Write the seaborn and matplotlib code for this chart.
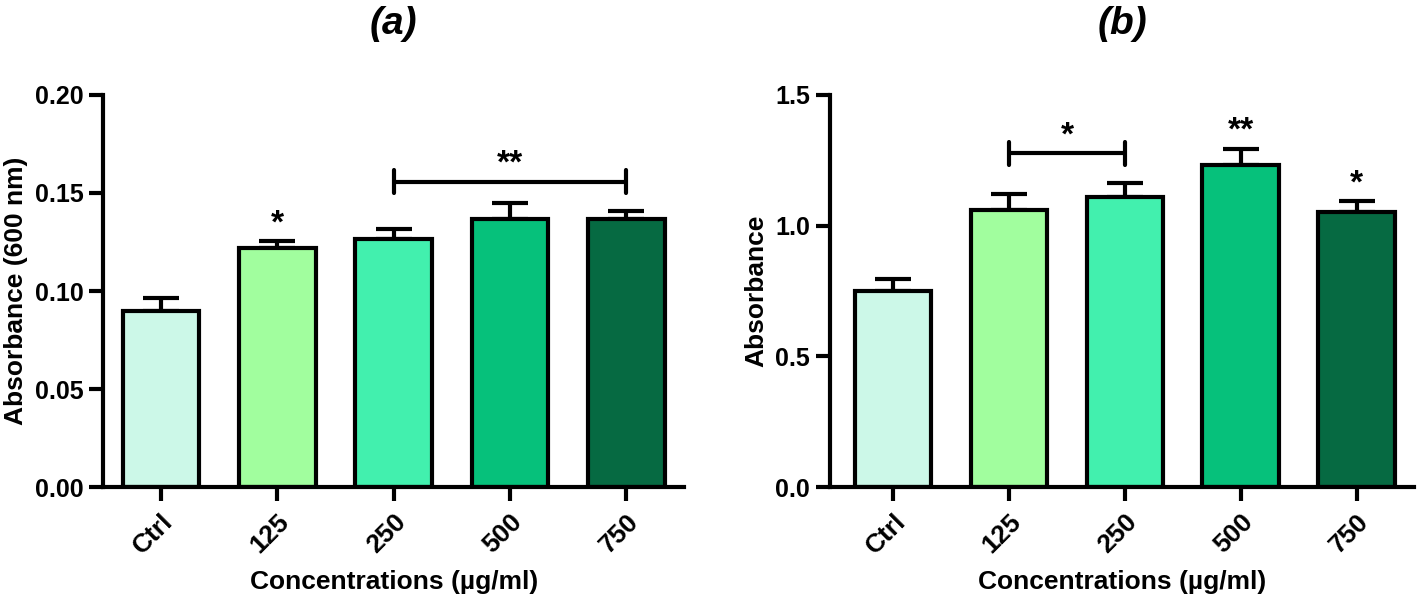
import numpy as np
import matplotlib
matplotlib.use("Agg")
import matplotlib.pyplot as plt
import seaborn as sns

# data
categories = ["Ctrl", "125", "250", "500", "750"]
colors = ["#CCF8E8", "#A1FE9E", "#42F0AE", "#06C17B", "#066A42"]

abs_a = [0.0897, 0.1217, 0.1263, 0.1368, 0.1368]
err_a = [0.0067, 0.0039, 0.0051, 0.0081, 0.0039]

abs_b = [0.750, 1.058, 1.109, 1.231, 1.051]
err_b = [0.045, 0.064, 0.055, 0.064, 0.045]

sns.set_theme(style="ticks")
plt.rcParams["font.family"] = ["Liberation Sans", "DejaVu Sans"]
plt.rcParams["font.weight"] = "bold"
plt.rcParams["text.color"] = "black"
plt.rcParams["axes.labelcolor"] = "black"
plt.rcParams["xtick.color"] = "black"
plt.rcParams["ytick.color"] = "black"

LW = 3.0

fig = plt.figure(figsize=(14.18, 5.97), dpi=100, facecolor="white")
ax_a = fig.add_axes([0.0726, 0.184, 0.41, 0.657])
ax_b = fig.add_axes([0.585, 0.184, 0.4125, 0.657])


def panel(ax, vals, errs, title, ylabel, ylim, yticks, yfmt):
    sns.barplot(x=categories, y=vals, hue=categories, palette=colors,
                legend=False, width=0.66, edgecolor="black", saturation=1,
                linewidth=LW, ax=ax, zorder=2)
    ax.errorbar(range(len(vals)), vals,
                yerr=[np.zeros(len(vals)), errs], fmt="none",
                ecolor="black", elinewidth=LW, capsize=13, capthick=LW,
                zorder=1)
    ax.set_ylim(*ylim)
    ax.set_yticks(yticks)
    ax.set_yticklabels([yfmt.format(t) for t in yticks])
    for s in ["top", "right"]:
        ax.spines[s].set_visible(False)
    for s in ["left", "bottom"]:
        ax.spines[s].set_linewidth(LW)
        ax.spines[s].set_color("black")
    ax.tick_params(axis="both", width=LW, length=10, color="black",
                   labelsize=18, pad=4)
    ax.tick_params(axis="x", labelsize=19, pad=6)
    plt.setp(ax.get_xticklabels(), rotation=45, ha="right",
             rotation_mode="anchor", fontweight="bold")
    plt.setp(ax.get_yticklabels(), fontweight="bold")
    ax.set_xlabel("Concentrations (µg/ml)", fontsize=19,
                  fontweight="bold", labelpad=8)
    ax.set_ylabel(ylabel, fontsize=19, fontweight="bold", labelpad=5)
    ax.set_title(title, fontsize=28, fontweight="bold", style="italic",
                 pad=44)


def bracket(ax, x0, x1, y, h, label, dy):
    ax.plot([x0, x1], [y, y], color="black", lw=LW, solid_capstyle="butt")
    ax.plot([x0, x0], [y - h, y + h], color="black", lw=LW)
    ax.plot([x1, x1], [y - h, y + h], color="black", lw=LW)
    ax.text((x0 + x1) / 2, y + dy, label, ha="center", va="center",
            fontsize=24, fontweight="bold")


panel(ax_a, abs_a, err_a, "(a)", "Absorbance (600 nm)",
      (0, 0.2), [0.0, 0.05, 0.10, 0.15, 0.20], "{:.2f}")
ax_a.set_xlim(-0.5, 4.5)
bracket(ax_a, 2, 4, 0.1558, 0.006, "**", 0.009)
ax_a.text(1, 0.134, "*", ha="center", va="center", fontsize=24,
          fontweight="bold")

panel(ax_b, abs_b, err_b, "(b)", "Absorbance",
      (0, 1.5), [0.0, 0.5, 1.0, 1.5], "{:.1f}")
ax_b.set_xlim(-0.55, 4.5)
bracket(ax_b, 1, 2, 1.276, 0.043, "*", 0.065)
ax_b.text(3, 1.36, "**", ha="center", va="center", fontsize=24,
          fontweight="bold")
ax_b.text(4, 1.16, "*", ha="center", va="center", fontsize=24,
          fontweight="bold")

plt.savefig("out.png", dpi=100)
plt.close(fig)
